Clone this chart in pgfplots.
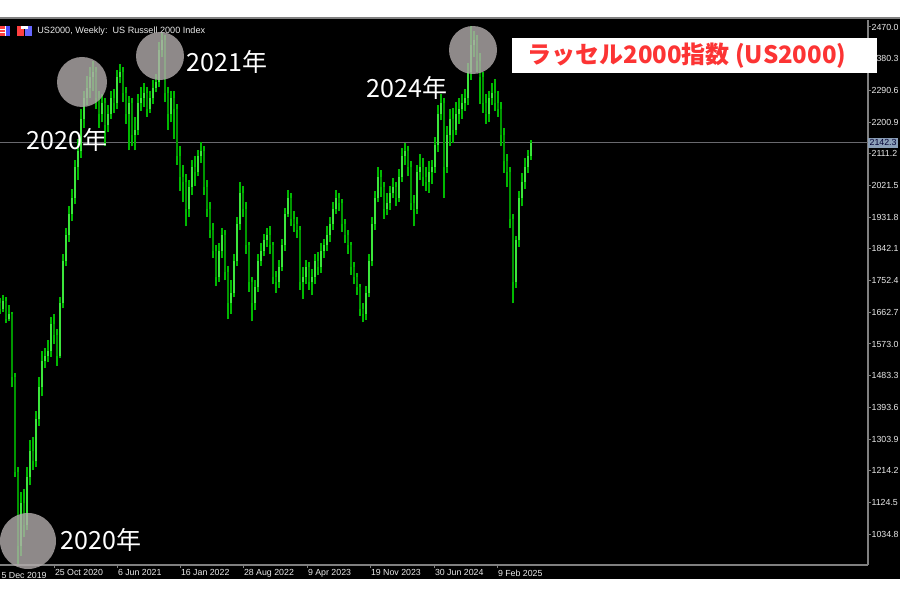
\documentclass[border=0pt]{standalone}
\usepackage{pgfplots}
\pgfplotsset{compat=1.18}
\usepackage{pgfplotstable}
\usepackage{fontspec}
\setmainfont{Liberation Sans}
\newfontfamily\cjk{Noto Sans CJK JP}
\definecolor{wickg}{RGB}{0,185,0}
\definecolor{upg}{RGB}{60,230,60}
\definecolor{dng}{RGB}{0,150,0}
\definecolor{axgray}{RGB}{128,128,128}
\definecolor{lblgray}{RGB}{235,235,235}
\definecolor{ttlred}{RGB}{252,52,52}
\definecolor{circg}{RGB}{178,172,172}
\definecolor{pricebox}{RGB}{140,160,185}
\definecolor{priceline}{RGB}{105,105,110}
\pgfplotstableread{
x o h l c
0 1688 1702 1658 1673
3 1673 1711 1663 1694
6 1694 1705 1632 1643
9 1643 1684 1637 1658
12 1658 1664 1450 1479
15 1479 1490 1196 1211
18 1211 1226 950 1002
21 1002 1153 974 1122
24 1122 1163 1026 1062
27 1062 1226 1047 1196
30 1196 1300 1174 1271
33 1271 1311 1216 1241
36 1241 1384 1226 1360
39 1360 1479 1342 1450
42 1450 1553 1426 1524
45 1524 1563 1505 1539
48 1539 1584 1521 1554
51 1554 1648 1537 1629
54 1629 1658 1574 1598
57 1598 1616 1511 1539
60 1539 1705 1532 1688
63 1688 1827 1674 1808
66 1808 1900 1795 1881
69 1881 1963 1863 1941
72 1941 2011 1921 1986
75 1986 2095 1969 2075
78 2075 2153 2037 2120
81 2120 2237 2100 2210
84 2210 2290 2185 2269
87 2269 2332 2248 2298
90 2298 2358 2269 2329
93 2329 2373 2290 2344
96 2344 2358 2237 2269
99 2269 2290 2185 2225
102 2225 2279 2200 2254
105 2254 2269 2132 2194
108 2194 2248 2174 2225
111 2225 2290 2211 2269
114 2269 2295 2227 2254
117 2254 2348 2237 2329
120 2329 2364 2311 2344
123 2344 2358 2258 2284
126 2284 2300 2195 2225
129 2225 2274 2121 2254
132 2254 2269 2132 2165
135 2165 2216 2121 2179
138 2179 2279 2164 2254
141 2254 2300 2232 2269
144 2269 2311 2243 2284
147 2284 2300 2216 2239
150 2239 2290 2227 2269
153 2269 2321 2253 2298
156 2298 2337 2285 2314
159 2314 2427 2300 2404
162 2404 2454 2385 2433
165 2433 2448 2258 2284
168 2284 2300 2179 2225
171 2225 2290 2200 2269
174 2269 2290 2153 2239
177 2239 2253 2079 2105
180 2105 2132 2006 2046
183 2046 2079 1974 2031
186 2031 2053 1906 1956
189 1956 2037 1932 2016
192 2016 2095 1995 2075
195 2075 2106 2021 2060
198 2060 2121 2048 2105
201 2105 2144 2085 2120
204 2120 2132 1995 2016
207 2016 2037 1932 1956
210 1956 1974 1874 1896
213 1896 1916 1816 1837
216 1837 1853 1737 1762
219 1762 1858 1748 1837
222 1837 1900 1816 1881
225 1881 1895 1753 1777
228 1777 1795 1643 1688
231 1688 1753 1658 1718
234 1718 1827 1705 1808
237 1808 1932 1795 1912
240 1912 2031 1895 2000
243 2000 2021 1932 1956
246 1956 1974 1827 1852
249 1852 1863 1721 1748
252 1748 1763 1637 1688
255 1688 1753 1669 1733
258 1733 1827 1721 1808
261 1808 1858 1795 1837
264 1837 1884 1821 1867
267 1867 1900 1848 1881
270 1881 1906 1827 1852
273 1852 1863 1742 1762
276 1762 1779 1718 1748
279 1748 1811 1732 1792
282 1792 1869 1779 1852
285 1852 1958 1837 1941
288 1941 2010 1932 1986
291 1986 2000 1906 1927
294 1927 1948 1890 1912
297 1912 1932 1874 1896
300 1896 1906 1727 1748
303 1748 1790 1700 1762
306 1762 1811 1742 1792
309 1792 1806 1727 1748
312 1748 1784 1711 1762
315 1762 1827 1742 1808
318 1808 1832 1769 1792
321 1792 1858 1774 1837
324 1837 1869 1816 1852
327 1852 1906 1837 1881
330 1881 1932 1863 1912
333 1912 1974 1895 1956
336 1956 2010 1942 1986
339 1986 2000 1948 1971
342 1971 1984 1890 1912
345 1912 1927 1858 1881
348 1881 1895 1827 1852
351 1852 1863 1769 1792
354 1792 1806 1742 1762
357 1762 1774 1711 1733
360 1733 1742 1653 1673
363 1673 1690 1634 1658
366 1658 1737 1642 1718
369 1718 1827 1705 1808
372 1808 1932 1795 1912
375 1912 2006 1895 1986
378 1986 2075 1974 2046
381 2046 2064 1990 2016
384 2016 2032 1927 1956
387 1956 2000 1937 1971
390 1971 2021 1953 2000
393 2000 2042 1985 2016
396 2016 2032 1963 1986
399 1986 2069 1974 2046
402 2046 2127 2032 2105
405 2105 2142 2079 2120
408 2120 2132 2048 2075
411 2075 2090 1953 1971
414 1971 1995 1906 1956
417 1956 2079 1942 2060
420 2060 2111 2037 2075
423 2075 2100 2021 2046
426 2046 2074 2006 2031
429 2031 2090 2000 2060
432 2060 2095 2027 2075
435 2075 2158 2058 2135
438 2135 2248 2116 2225
441 2225 2279 2206 2254
444 2254 2269 1986 2075
447 2075 2190 2058 2165
450 2165 2237 2132 2210
453 2210 2242 2143 2179
456 2179 2258 2164 2225
459 2225 2269 2195 2239
462 2239 2279 2211 2254
465 2254 2295 2232 2269
468 2269 2369 2248 2344
471 2344 2472 2321 2418
474 2418 2458 2385 2433
477 2433 2448 2343 2373
480 2373 2395 2253 2329
483 2329 2343 2227 2254
486 2254 2279 2195 2225
489 2225 2290 2200 2269
492 2269 2311 2248 2284
495 2284 2322 2232 2254
498 2254 2290 2216 2239
501 2239 2258 2132 2165
504 2165 2185 2058 2090
507 2090 2111 2016 2060
510 2060 2074 1900 1927
513 1927 1942 1688 1748
516 1748 1879 1732 1867
519 1867 2006 1848 1986
522 1986 2058 1963 2031
525 2031 2100 2011 2075
528 2075 2121 2058 2105
531 2105 2150 2095 2142.3
}\bars
\newcommand{\tickfont}{\fontsize{4.4}{5}\selectfont}
\begin{document}
\begin{tikzpicture}
\path[use as bounding box] (0pt,0pt) rectangle (450pt,300pt);
\fill[white] (0pt,0pt) rectangle (450pt,300pt);
\fill[black] (0pt,10.5pt) rectangle (450pt,291pt);
\draw[axgray, line width=1pt] (0pt,291pt) -- (450pt,291pt);
% icons and title
\fill[red!75!white] (0pt,282pt) rectangle (5pt,287pt);
\draw[white, line width=0.3pt] (0pt,283.7pt) -- (5pt,283.7pt) (0pt,285.3pt) -- (5pt,285.3pt) (2.5pt,282pt) -- (2.5pt,287pt);
\fill[blue!70!white] (3.2pt,282pt) rectangle (5pt,287pt);
\fill[red!75!white] (8.5pt,282pt) rectangle (12pt,287pt);
\fill[blue!60!white] (12.5pt,282pt) rectangle (16pt,287pt);
\fill[white] (10.5pt,285.5pt) rectangle (14pt,287pt);
\node[anchor=west, text=lblgray, inner sep=0pt, font=\fontsize{4.55}{5}\selectfont] at (18.5pt,284.5pt) {US2000, Weekly:\ \ US Russell 2000 Index};
\begin{axis}[
  at={(0pt,17.5pt)}, anchor=south west,
  scale only axis, width=434pt, height=272.5pt,
  xmin=0, xmax=868, ymin=947.6, ymax=2489.8,
  axis x line*=bottom, axis y line*=right,
  axis line style={axgray, line width=0.6pt, -},
  clip=false,
  tick align=outside, major tick length=1.6pt,
  tick style={axgray, line width=0.5pt},
  xtick={54,117,180,243,307,370,434,497},
  xticklabels={25 Oct 2020, 6 Jun 2021, 16 Jan 2022, 28 Aug 2022, 9 Apr 2023, 19 Nov 2023, 30 Jun 2024, 9 Feb 2025},
  xticklabel style={anchor=north west, xshift=-0.3pt, inner sep=0.6pt, font=\tickfont, text=lblgray},
  ytick={1034.8,1124.5,1214.2,1303.9,1393.6,1483.3,1573.0,1662.7,1752.4,1842.1,1931.8,2021.5,2111.2,2200.9,2290.6,2380.3,2470.0},
  yticklabels={1034.8,1124.5,1214.2,1303.9,1393.6,1483.3,1573.0,1662.7,1752.4,1842.1,1931.8,2021.5,2111.2,2200.9,2290.6,2380.3,2470.0},
  yticklabel style={anchor=west, xshift=-0.6pt, inner sep=0.6pt, font=\tickfont, text=lblgray},
]
% current price line
\addplot[forget plot, priceline, line width=0.6pt] coordinates {(0,2142.3) (868,2142.3)};
% wicks
\addplot[draw=none, mark=none, forget plot,
  error bars/.cd, y dir=plus, y explicit, error mark=none,
  error bar style={draw=wickg, line width=0.55pt}]
  table[x=x, y=l, y error plus expr=\thisrow{h}-\thisrow{l}] {\bars};
% down bodies
\addplot[draw=none, mark=none, forget plot,
  restrict expr to domain={\thisrow{o}-\thisrow{c}}{0:100000},
  error bars/.cd, y dir=plus, y explicit, error mark=none,
  error bar style={draw=dng, line width=1.3pt}]
  table[x=x, y=c, y error plus expr=\thisrow{o}-\thisrow{c}] {\bars};
% up bodies
\addplot[draw=none, mark=none, forget plot,
  restrict expr to domain={\thisrow{c}-\thisrow{o}}{0.01:100000},
  error bars/.cd, y dir=plus, y explicit, error mark=none,
  error bar style={draw=upg, line width=1.3pt}]
  table[x=x, y=o, y error plus expr=\thisrow{c}-\thisrow{o}] {\bars};
% price label
\node[anchor=west, fill=pricebox, text=black!80!blue, inner xsep=0.6pt, inner ysep=0.8pt, font=\tickfont] at (axis cs:868,2142.3) {2142.3};
% first (cut) date label
\node[anchor=north west, inner sep=0.6pt, font=\tickfont, text=lblgray] at (axis cs:0,930) {5 Dec 2019};
% highlight circles
\fill[circg, fill opacity=0.8] (axis cs:82,2314.4) circle[radius=12.5pt];
\fill[circg, fill opacity=0.8] (axis cs:160,2387.9) circle[radius=12pt];
\fill[circg, fill opacity=0.8] (axis cs:28,1015.5) circle[radius=14pt];
\fill[circg, fill opacity=0.8] (axis cs:473,2404.9) circle[radius=12pt];
% year labels
\node[text=white, inner sep=0pt, font=\cjk\fontsize{12.5}{14}\selectfont] at (axis cs:67,2150.2) {2020年};
\node[text=white, inner sep=0pt, font=\cjk\fontsize{12.5}{14}\selectfont] at (axis cs:227,2371) {2021年};
\node[text=white, inner sep=0pt, font=\cjk\fontsize{12.5}{14}\selectfont] at (axis cs:407,2297.4) {2024年};
\node[text=white, inner sep=0pt, font=\cjk\fontsize{12.5}{14}\selectfont] at (axis cs:101,1018.3) {2020年};
\end{axis}
% red title box
\fill[white] (256pt,263.5pt) rectangle (438.5pt,281pt);
\node[anchor=west, text=ttlred, inner sep=0pt, font=\cjk\bfseries\fontsize{12}{14}\selectfont] at (263.5pt,272pt) {ラッセル2000指数 (US2000)};
\end{tikzpicture}
\end{document}
